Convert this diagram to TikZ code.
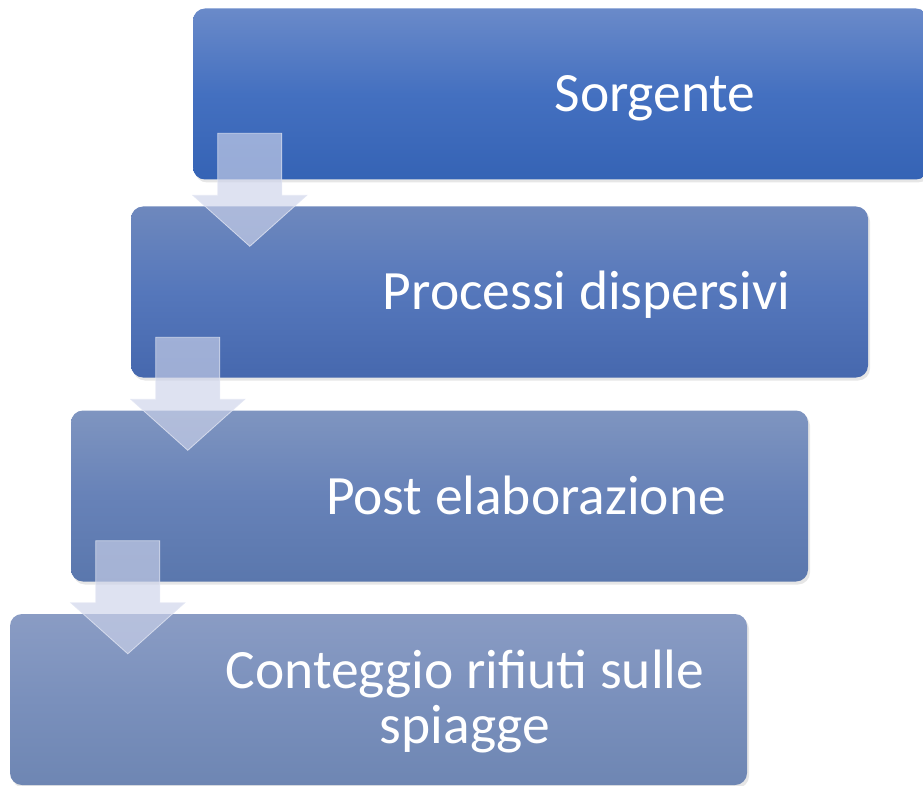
\documentclass[tikz,border=0pt]{standalone}
\usepackage{fontspec}
\setmainfont{Carlito}
\usetikzlibrary{calc,shadows}

\definecolor{oneTop}{HTML}{6A8AC9}
\definecolor{oneMid}{HTML}{4470C0}
\definecolor{oneBot}{HTML}{3563B5}
\definecolor{twoTop}{HTML}{6E88BD}
\definecolor{twoMid}{HTML}{5577BB}
\definecolor{twoBot}{HTML}{4668AE}
\definecolor{threeTop}{HTML}{7F95C0}
\definecolor{threeMid}{HTML}{6782B8}
\definecolor{threeBot}{HTML}{5A77AD}
\definecolor{fourTop}{HTML}{8A9CC4}
\definecolor{fourMid}{HTML}{7A90BC}
\definecolor{fourBot}{HTML}{6E86B3}
\definecolor{arrowfill}{HTML}{CDD3EA}
\definecolor{arrowline}{HTML}{E2E6F3}

\tikzset{
  stepbox/.style={rounded corners=12pt, minimum width=737pt, minimum height=171pt, inner sep=0pt,
    drop shadow={shadow xshift=2pt, shadow yshift=-3pt, opacity=.2}},
  shadeone/.style={top color=oneTop, bottom color=oneBot, middle color=oneMid},
  shadetwo/.style={top color=twoTop, bottom color=twoBot, middle color=twoMid},
  shadethree/.style={top color=threeTop, bottom color=threeBot, middle color=threeMid},
  shadefour/.style={top color=fourTop, bottom color=fourBot, middle color=fourMid},
  steptext/.style={text=white, font=\fontsize{55.5}{55}\selectfont, align=center, anchor=base, inner sep=0pt},
  downarrow/.style={fill=arrowfill, fill opacity=.65, draw=arrowline, draw opacity=.8, line width=.8pt}
}

\begin{document}
\begin{tikzpicture}[x=1pt,y=-1pt]
\useasboundingbox (0,0) rectangle (923,786);
% boxes
\node [stepbox, shadeone, minimum width=735pt] (b1) at (560.5,94) {};
\node [stepbox, shadetwo] (b2) at (499.5,292) {};
\node [stepbox, shadethree] (b3) at (439.5,496) {};
\node [stepbox, shadefour] (b4) at (378.5,699.5) {};
% labels
\node [steptext] (t1) at (655,112) {Sorgente};
\node [steptext] (t2) at (586.5,309) {Processi dispersivi};
\node [steptext] (t3) at (526,514) {Post elaborazione};
\node [steptext] (t4) at (465,743) {Conteggio rifiuti sulle\\spiagge};
% arrows
\draw [downarrow] ($(b1.west |- b2.north)+(25,-73)$) -- ++(64,0) -- ++(0,62) -- ++(25,0)
  -- ++(-57,51) -- ++(-57,-51) -- ++(25,0) -- cycle;
\draw [downarrow] ($(b2.west |- b3.north)+(25,-73)$) -- ++(64,0) -- ++(0,62) -- ++(25,0)
  -- ++(-57,51) -- ++(-57,-51) -- ++(25,0) -- cycle;
\draw [downarrow] ($(b3.west |- b4.north)+(25,-73)$) -- ++(64,0) -- ++(0,62) -- ++(25,0)
  -- ++(-57,51) -- ++(-57,-51) -- ++(25,0) -- cycle;
\end{tikzpicture}
\end{document}
